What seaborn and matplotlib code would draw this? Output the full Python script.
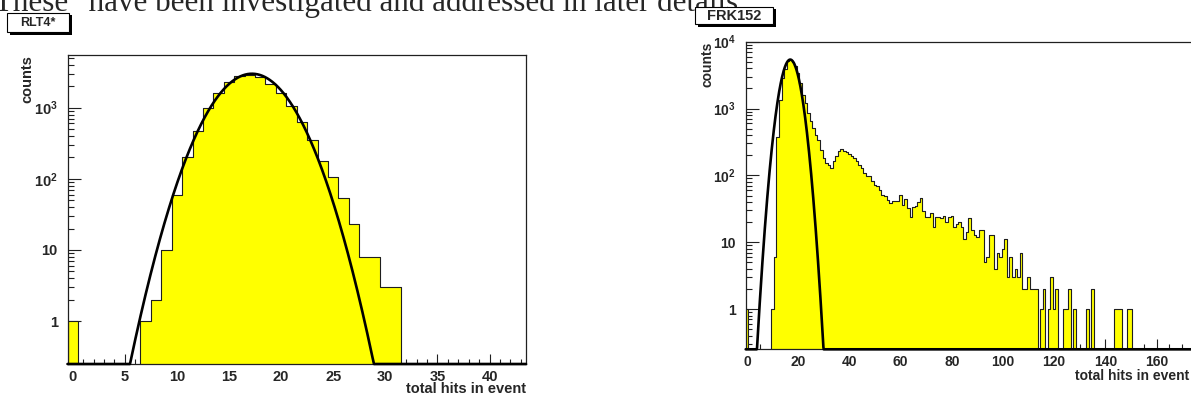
import numpy as np
import pandas as pd
import matplotlib
matplotlib.use("Agg")
import matplotlib.pyplot as plt
import seaborn as sns
from matplotlib.patches import Rectangle
from matplotlib.ticker import MultipleLocator, LogLocator, FuncFormatter, NullFormatter

# --- data ------------------------------------------------------------
# RLT4*: counts per bin, bins centred on 0..43
rlt_counts = [1, 0, 0, 0, 0, 0, 0, 1, 2, 10,
              60, 200, 470, 980, 1620, 2270, 2810, 2900, 2670, 2130,
              1590, 1070, 625, 350, 180, 105, 53, 23, 8, 8,
              3, 3, 0, 0, 0, 0, 0, 0, 0, 0,
              0, 0, 0, 0]
# gaussian fit drawn over RLT4*
rlt_fit = dict(amp=3000, mean=17.2, sigma=2.70)

# FRK152: counts per bin, bins centred on 0..174
frk_counts = [1, 0, 0, 0, 0, 0, 0, 0, 0, 0,
              1, 6, 380, 1360, 2880, 3900, 5100, 5400, 4900, 4270,
              3400, 2400, 1620, 1210, 860, 645, 510, 405, 340, 243,
              182, 154, 145, 130, 162, 192, 230, 248, 230, 220,
              211, 197, 182, 162, 145, 130, 108, 99, 98, 81,
              73, 70, 61, 51, 50, 43, 39, 41, 41, 42,
              51, 36, 45, 32, 24, 34, 35, 40, 46, 29,
              24, 24, 27, 17, 24, 24, 23, 25, 20, 24,
              25, 17, 19, 20, 17, 11, 14, 23, 15, 13,
              12, 15, 15, 5, 6, 13, 13, 4, 7, 6,
              8, 11, 3, 6, 3, 4, 3, 7, 2, 2,
              3, 2, 2, 2, 0, 1, 2, 0, 1, 3,
              1, 2, 0, 0, 1, 1, 2, 0, 1, 0,
              0, 0, 0, 1, 0, 2, 0, 0, 0, 0,
              0, 0, 0, 0, 1, 1, 1, 0, 0, 1,
              1] + [0] * 24
frk_fit = dict(amp=5400, mean=16.9, sigma=2.91)

xlabel = "total hits in event"
ylabel = "counts"
# clipped line of the paper text above the figure
caption = 'These" have been investigated and addressed in later details'
# ----------------------------------------------------------------------

W, H = 1191, 398
sns.set_style("ticks")
plt.rcParams["font.family"] = ["Liberation Sans", "DejaVu Sans"]
plt.rcParams["font.weight"] = "bold"
plt.rcParams["mathtext.fontset"] = "custom"
plt.rcParams["mathtext.rm"] = "Liberation Sans:bold"
plt.rcParams["mathtext.bf"] = "Liberation Sans:bold"

fig = plt.figure(figsize=(W / 100, H / 100), dpi=100)


def px_box(x0, y0, x1, y1):
    # pixel rectangle (top-left origin) -> figure fraction [l, b, w, h]
    return [x0 / W, 1 - y1 / H, (x1 - x0) / W, (y1 - y0) / H]


def log_label(v, pos):
    e = int(round(np.log10(v)))
    if e == 0:
        return "1"
    if e == 1:
        return "10"
    return r"$\mathbf{10^{%d}}$" % e


def draw_panel(ax, counts, fit, ymax, xmajor, xminor, fs, ylab_x, xlab_x, xlab_y):
    n = len(counts)
    df = pd.DataFrame({"hits": np.arange(n), "counts": counts})
    sns.histplot(data=df, x="hits", weights="counts", binwidth=1,
                 binrange=(-0.5, n - 0.5), element="step",
                 fill=True, color="#ffff00", alpha=1, edgecolor="#1e1e1e",
                 linewidth=0.8, ax=ax)
    ax.set_yscale("log")
    ymin = 0.25
    ax.set_xlim(-0.5, n - 0.5)
    ax.set_ylim(ymin, ymax)

    xs = np.linspace(-0.5, n - 0.5, 1500)
    ys = fit["amp"] * np.exp(-0.5 * ((xs - fit["mean"]) / fit["sigma"]) ** 2)
    ys = np.maximum(ys, ymin)
    sns.lineplot(x=xs, y=ys, color="black", linewidth=1.9, ax=ax,
                 clip_on=False, zorder=5)

    ax.xaxis.set_major_locator(MultipleLocator(xmajor))
    ax.xaxis.set_minor_locator(MultipleLocator(xminor))
    ax.yaxis.set_major_locator(LogLocator(base=10))
    ax.yaxis.set_minor_locator(LogLocator(base=10, subs=np.arange(2, 10)))
    ax.yaxis.set_major_formatter(FuncFormatter(log_label))
    ax.yaxis.set_minor_formatter(NullFormatter())

    ax.tick_params(which="both", direction="in", top=False, right=False,
                   width=0.8, color="#202020", labelsize=fs)
    ax.tick_params(axis="y", which="major", length=9.5, pad=7)
    ax.tick_params(axis="y", which="minor", length=4.6)
    ax.tick_params(axis="x", which="major", length=7, pad=4)
    ax.tick_params(axis="x", which="minor", length=3.4)
    for lab in ax.get_xticklabels() + ax.get_yticklabels():
        lab.set_fontweight("bold")
    for s in ax.spines.values():
        s.set_linewidth(0.9)
        s.set_color("#202020")

    ax.set_ylabel(ylabel, fontsize=fs, fontweight="bold", loc="top")
    ax.yaxis.set_label_coords(ylab_x, 1.0)
    ax.set_xlabel(xlabel, fontsize=fs, fontweight="bold", loc="right")
    ax.xaxis.set_label_coords(xlab_x, xlab_y)


ax1 = fig.add_axes(px_box(67.5, 55, 526, 364))
draw_panel(ax1, rlt_counts, rlt_fit, 5500, 5, 1, 10.5, -0.072, 1.0, -0.058)

ax2 = fig.add_axes(px_box(745.7, 41.7, 1193.7, 349.3))
draw_panel(ax2, frk_counts, frk_fit, 1e4, 20, 5, 10, -0.069, 0.9895, -0.063)
ax2.spines["right"].set_visible(False)

# clipped line of paper text at the top
fig.text(-6 / W, 1 - 11 / H, caption, family="Liberation Serif",
         fontweight="normal", fontsize=22.3, va="baseline", ha="left")


def title_box(x0, y0, x1, y1, label, fs):
    sh = 2.5
    fig.add_artist(Rectangle((x0 / W + sh / W, 1 - (y1 + sh) / H),
                             (x1 - x0) / W, (y1 - y0) / H,
                             transform=fig.transFigure, facecolor="black",
                             edgecolor="none", zorder=10))
    fig.add_artist(Rectangle((x0 / W, 1 - y1 / H), (x1 - x0) / W, (y1 - y0) / H,
                             transform=fig.transFigure, facecolor="white",
                             edgecolor="black", linewidth=0.8, zorder=11))
    fig.text((x0 + x1) / 2 / W, 1 - (y0 + y1) / 2 / H, label, fontsize=fs,
             fontweight="bold", ha="center", va="center", zorder=12)


title_box(7, 13, 69, 32, "RLT4*", 9)
title_box(695, 7, 773, 24, "FRK152", 10.5)

fig.savefig("out.png", dpi=100)
